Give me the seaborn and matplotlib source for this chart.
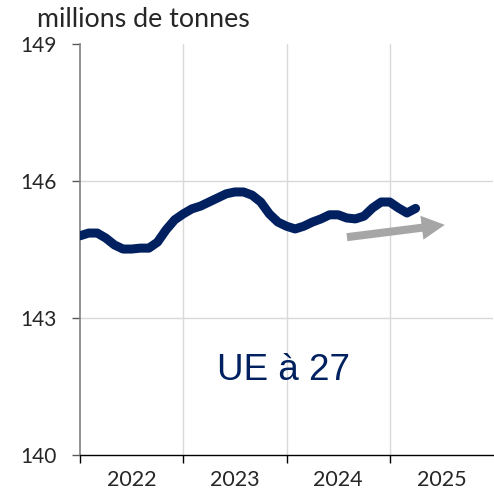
import numpy as np
import pandas as pd
import matplotlib
matplotlib.use('Agg')
import matplotlib.pyplot as plt
import seaborn as sns

# Monthly values, Jan 2022 -> Apr 2025 (millions de tonnes)
values = [144.80, 144.86, 144.86, 144.75, 144.60, 144.51, 144.51, 144.53, 144.53, 144.66,
          144.93, 145.15, 145.28, 145.39, 145.45, 145.54, 145.63, 145.72, 145.76, 145.76,
          145.69, 145.54, 145.28, 145.10, 145.01, 144.95, 145.01, 145.10, 145.17, 145.26,
          145.26, 145.19, 145.17, 145.23, 145.41, 145.54, 145.54, 145.41, 145.30, 145.40]
start_year = 2022
years = [2022, 2023, 2024, 2025]
y_ticks = [140, 143, 146, 149]

# trend arrow (start, end)
arrow_tail = (2024.585, 144.77)
arrow_tip = (2025.533, 145.04)

df = pd.DataFrame({'t': start_year + np.arange(len(values)) / 12, 'value': values})

sns.set_style('white')
plt.rcParams['font.family'] = ['Lato', 'DejaVu Sans']

fig = plt.figure(figsize=(4.94, 4.91), dpi=100)
ax = fig.add_axes([0.162, 0.0733, 0.836, 0.8371])

# grid
for yy in y_ticks[1:-1]:
    ax.axhline(yy, color='#D9D9D9', lw=1, zorder=0)
for xx in years[1:]:
    ax.axvline(xx, color='#D9D9D9', lw=1, zorder=0)

sns.lineplot(data=df, x='t', y='value', ax=ax, color='#002060', lw=6.5,
             solid_capstyle='round', solid_joinstyle='round', zorder=3)

ax.annotate('', xy=arrow_tip, xytext=arrow_tail,
            arrowprops=dict(arrowstyle='simple,head_length=1.66,head_width=1.73,tail_width=0.58',
                            mutation_scale=10, color='#A6A6A6', shrinkA=0, shrinkB=0, lw=0),
            zorder=2)

ax.text(2023.97, 141.85, 'UE à 27', color='#002060', fontsize=26.5,
        family=['Liberation Sans', 'DejaVu Sans'], ha='center', va='center')

ax.set_xlim(years[0], years[-1] + 1)
ax.set_ylim(y_ticks[0], y_ticks[-1])
ax.set_yticks(y_ticks)
ax.set_xticks(years)
ax.set_xticklabels([])
ax.set_xticks([y + 0.5 for y in years], minor=True)
ax.set_xticklabels([str(y) for y in years], minor=True)
ax.tick_params(axis='x', which='major', length=6, width=1, color='black', direction='out', bottom=True)
ax.tick_params(axis='x', which='minor', length=0, pad=11, labelsize=15.5)
ax.tick_params(axis='y', length=6, width=1, color='#595959', direction='out', left=True,
               pad=11, labelsize=15)
ax.set_xlabel('')
ax.set_ylabel('')

for s in ['top', 'right']:
    ax.spines[s].set_visible(False)
ax.spines['left'].set_color('#808080')
ax.spines['left'].set_linewidth(1.2)
ax.spines['bottom'].set_color('black')
ax.spines['bottom'].set_linewidth(1)

fig.text(37 / 494, 1 - 27 / 491, 'millions de tonnes', fontsize=19.3, ha='left', va='baseline')

fig.savefig('out.png', dpi=100)
